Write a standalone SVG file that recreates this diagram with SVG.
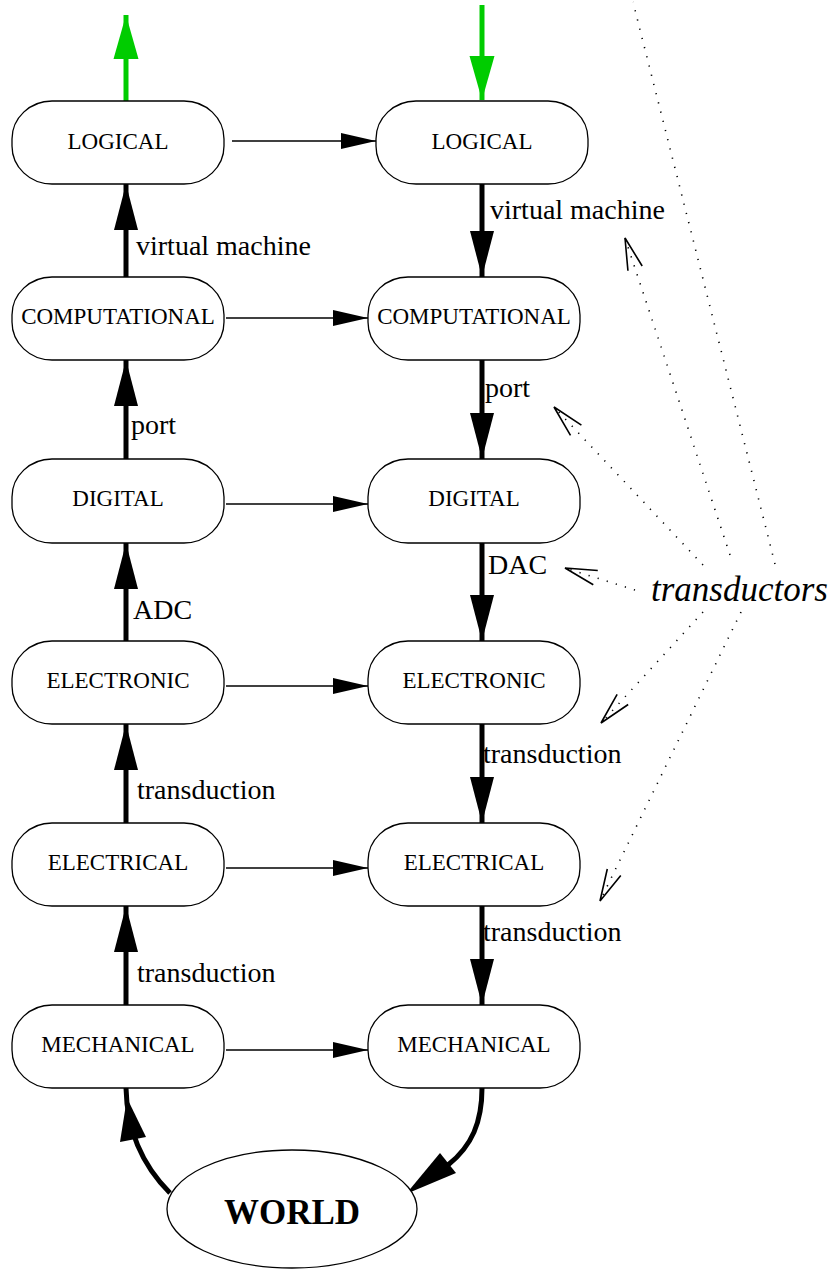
<svg xmlns="http://www.w3.org/2000/svg" width="836" height="1270" viewBox="0 0 836 1270">
<style>
.box{fill:#fff;stroke:#000;stroke-width:1.3}
.nl{font-family:"Liberation Serif","Times New Roman",serif;font-size:23px;text-anchor:middle;fill:#000}
.el{font-family:"Liberation Serif","Times New Roman",serif;font-size:28px;fill:#000}
.thick{stroke:#000;stroke-width:5;fill:none}
.green{stroke:#00cc00;stroke-width:5;fill:none}
.thin{stroke:#000;stroke-width:1.6;fill:none}
.dot{stroke:#000;stroke-width:1.6;stroke-dasharray:1.2 8.3;fill:none}
</style>
<defs>
<marker id="bigK" markerUnits="userSpaceOnUse" viewBox="-47 -13 48 26" refX="0" refY="0" markerWidth="48" markerHeight="26" orient="auto"><path d="M-46,-12 L0,0 L-46,12 Z" fill="#000"/></marker>
<marker id="bigG" markerUnits="userSpaceOnUse" viewBox="-47 -13 48 26" refX="0" refY="0" markerWidth="48" markerHeight="26" orient="auto"><path d="M-44,-12.5 L0,0 L-44,12.5 Z" fill="#00cc00"/></marker>
<marker id="small" markerUnits="userSpaceOnUse" viewBox="-36 -9 37 18" refX="0" refY="0" markerWidth="37" markerHeight="18" orient="auto"><path d="M-35,-8 L0,0 L-35,8 Z" fill="#000"/></marker>
<marker id="open" markerUnits="userSpaceOnUse" viewBox="-34 -10 36 20" refX="0" refY="0" markerWidth="36" markerHeight="20" orient="auto"><path d="M-32,-7.5 L0,0 L-32,7.5" fill="none" stroke="#000" stroke-width="1.6" stroke-dasharray="none"/></marker>
</defs>

<g id="connectors">
<path class="green" d="M126,101 L126,15" marker-end="url(#bigG)"/>
<path class="green" d="M482,5 L482,100" marker-end="url(#bigG)"/>
<path class="thick" d="M126,277 L126,184" marker-end="url(#bigK)"/>
<path class="thick" d="M126,459 L126,360" marker-end="url(#bigK)"/>
<path class="thick" d="M126,641 L126,543" marker-end="url(#bigK)"/>
<path class="thick" d="M126,823 L126,724" marker-end="url(#bigK)"/>
<path class="thick" d="M126,1005 L126,906" marker-end="url(#bigK)"/>
<path class="thick" d="M482,184 L482,277" marker-end="url(#bigK)"/>
<path class="thick" d="M482,360 L482,459" marker-end="url(#bigK)"/>
<path class="thick" d="M482,543 L482,641" marker-end="url(#bigK)"/>
<path class="thick" d="M482,724 L482,823" marker-end="url(#bigK)"/>
<path class="thick" d="M482,906 L482,1005" marker-end="url(#bigK)"/>
<path class="thin" d="M232,141 L376,141" marker-end="url(#small)"/>
<path class="thin" d="M226,318 L368,318" marker-end="url(#small)"/>
<path class="thin" d="M226,504 L368,504" marker-end="url(#small)"/>
<path class="thin" d="M226,686 L368,686" marker-end="url(#small)"/>
<path class="thin" d="M226,868 L368,868" marker-end="url(#small)"/>
<path class="thin" d="M226,1050 L368,1050" marker-end="url(#small)"/>
<path class="thick" d="M170,1193 C145,1168 127,1135 126,1088"/>
<polygon points="127,1098 120,1142 146,1137" fill="#000"/>
<path class="thick" d="M482,1088 C482,1122 472,1146 448,1165"/>
<path d="M448,1163 L406,1194" stroke="#000" stroke-width="2" fill="none"/>
<polygon points="406,1194 440,1153 456,1173" fill="#000"/>
<path class="dot" d="M775,564 L633,2"/>
<path class="dot" d="M730,555 L625,238" marker-end="url(#open)"/>
<path class="dot" d="M703,565 L554,407" marker-end="url(#open)"/>
<path class="dot" d="M635,590 L565,568" marker-end="url(#open)"/>
<path class="dot" d="M703,612 L601,723" marker-end="url(#open)"/>
<path class="dot" d="M741,612 L600,901" marker-end="url(#open)"/>
<text class="el" x="136" y="255">virtual machine</text>
<text class="el" x="131" y="434">port</text>
<text class="el" x="133" y="619">ADC</text>
<text class="el" x="137" y="799">transduction</text>
<text class="el" x="137" y="982">transduction</text>
<text class="el" x="490" y="219">virtual machine</text>
<text class="el" x="485" y="397">port</text>
<text class="el" x="488" y="574">DAC</text>
<text class="el" x="483" y="763">transduction</text>
<text class="el" x="483" y="941">transduction</text>
</g>

<g id="n-logical-l"><rect class="box" x="12" y="101" width="212" height="83" rx="40" ry="38"/><text class="nl" x="118" y="149">LOGICAL</text></g>
<g id="n-logical-r"><rect class="box" x="376" y="101" width="212" height="83" rx="40" ry="38"/><text class="nl" x="482" y="149">LOGICAL</text></g>
<g id="n-comp-l"><rect class="box" x="12" y="277" width="212" height="83" rx="40" ry="38"/><text class="nl" x="118" y="324">COMPUTATIONAL</text></g>
<g id="n-comp-r"><rect class="box" x="368" y="277" width="212" height="83" rx="40" ry="38"/><text class="nl" x="474" y="324">COMPUTATIONAL</text></g>
<g id="n-digital-l"><rect class="box" x="12" y="459" width="212" height="84" rx="40" ry="38"/><text class="nl" x="118" y="506">DIGITAL</text></g>
<g id="n-digital-r"><rect class="box" x="368" y="459" width="212" height="84" rx="40" ry="38"/><text class="nl" x="474" y="506">DIGITAL</text></g>
<g id="n-electronic-l"><rect class="box" x="12" y="641" width="212" height="83" rx="40" ry="38"/><text class="nl" x="118" y="688">ELECTRONIC</text></g>
<g id="n-electronic-r"><rect class="box" x="368" y="641" width="212" height="83" rx="40" ry="38"/><text class="nl" x="474" y="688">ELECTRONIC</text></g>
<g id="n-electrical-l"><rect class="box" x="12" y="823" width="212" height="83" rx="40" ry="38"/><text class="nl" x="118" y="870">ELECTRICAL</text></g>
<g id="n-electrical-r"><rect class="box" x="368" y="823" width="212" height="83" rx="40" ry="38"/><text class="nl" x="474" y="870">ELECTRICAL</text></g>
<g id="n-mech-l"><rect class="box" x="12" y="1005" width="212" height="83" rx="40" ry="38"/><text class="nl" x="118" y="1052">MECHANICAL</text></g>
<g id="n-mech-r"><rect class="box" x="368" y="1005" width="212" height="83" rx="40" ry="38"/><text class="nl" x="474" y="1052">MECHANICAL</text></g>
<g id="n-world"><ellipse class="box" cx="292" cy="1209" rx="125" ry="59"/><text x="292" y="1224" text-anchor="middle" font-family="Liberation Serif, Times New Roman, serif" font-weight="bold" font-size="35">WORLD</text></g>
<g id="n-transductors"><text x="651" y="601" font-family="Liberation Serif, Times New Roman, serif" font-style="italic" font-size="35">transductors</text></g>
</svg>
